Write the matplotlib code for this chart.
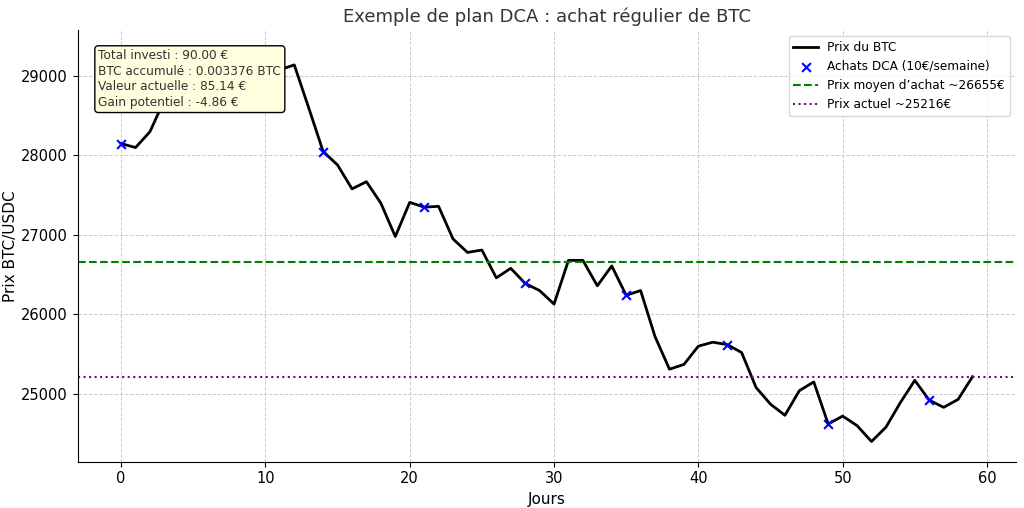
import matplotlib
matplotlib.use('Agg')
import matplotlib.pyplot as plt

# Daily BTC price (days 0..59)
days = list(range(60))
prices = [28150, 28100, 28300, 28700, 28950, 29100, 29200, 29310, 29250, 29150,
          29050, 29080, 29140, 28600, 28050, 27880, 27580, 27670, 27400, 26980,
          27410, 27350, 27360, 26950, 26780, 26810, 26460, 26580, 26390, 26300,
          26130, 26680, 26680, 26360, 26610, 26240, 26300, 25720, 25310, 25370,
          25600, 25650, 25620, 25520, 25080, 24870, 24730, 25040, 25150, 24620,
          24720, 24600, 24400, 24580, 24890, 25170, 24920, 24830, 24930, 25216]
buy_days = [0, 7, 14, 21, 28, 35, 42, 49, 56]
avg_price = 26655
last_price = 25216

fig, ax = plt.subplots(figsize=(10.24, 5.08), dpi=100)
ax.plot(days, prices, color='black', lw=2, label='Prix du BTC')
ax.scatter(buy_days, [prices[d] for d in buy_days], marker='x', color='blue', s=40,
           zorder=3, label='Achats DCA (10€/semaine)')
ax.axhline(avg_price, color='green', ls='--', lw=1.5, label='Prix moyen d’achat ~26655€')
ax.axhline(last_price, color='purple', ls=':', lw=1.5, label='Prix actuel ~25216€')

ax.set_xlim(-3, 62)
ax.set_ylim(24145, 29580)
ax.set_title('Exemple de plan DCA : achat régulier de BTC', fontsize=13, color='#333333')
ax.set_xlabel('Jours', fontsize=11)
ax.set_ylabel('Prix BTC/USDC', fontsize=11, labelpad=2)
ax.tick_params(labelsize=10.5)
ax.grid(True, ls='--', color='#cccccc', lw=0.7)
for s in ['top', 'right']:
    ax.spines[s].set_visible(False)

ax.text(0.022, 0.955, 'Total investi : 90.00 €\nBTC accumulé : 0.003376 BTC\n'
        'Valeur actuelle : 85.14 €\nGain potentiel : -4.86 €',
        transform=ax.transAxes, va='top', fontsize=8.7, color='#333333', zorder=5,
        linespacing=1.25,
        bbox=dict(boxstyle='round', facecolor='lightyellow', edgecolor='black'))
ax.legend(loc='upper right', fontsize=8.7)

fig.subplots_adjust(left=0.076, right=0.992, bottom=0.091, top=0.941)
fig.savefig('out.png')
